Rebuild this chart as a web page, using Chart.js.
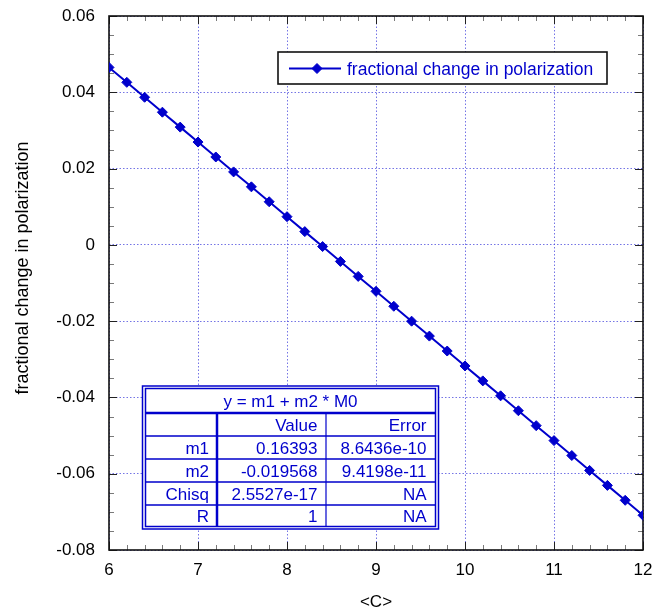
<!DOCTYPE html>
<html><head><meta charset="utf-8">
<script src="https://cdn.jsdelivr.net/npm/chart.js@4.4.1/dist/chart.umd.min.js"></script>
<style>html,body{margin:0;padding:0;background:#fff;} canvas{display:block;}</style>
</head><body>
<canvas id="c" width="657" height="614"></canvas>
<script>
// ---- data ----
const xValues = [6.0, 6.2, 6.4, 6.6, 6.8, 7.0, 7.2, 7.4, 7.6, 7.8, 8.0, 8.2, 8.4, 8.6, 8.8, 9.0,
                 9.2, 9.4, 9.6, 9.8, 10.0, 10.2, 10.4, 10.6, 10.8, 11.0, 11.2, 11.4, 11.6, 11.8, 12.0];
const yValues = [0.046522, 0.042608, 0.038695, 0.034781, 0.030868, 0.026954, 0.023040, 0.019127,
                 0.015213, 0.011300, 0.007386, 0.003472, -0.000441, -0.004355, -0.008268, -0.012182,
                 -0.016096, -0.020009, -0.023923, -0.027836, -0.031750, -0.035664, -0.039577, -0.043491,
                 -0.047404, -0.051318, -0.055232, -0.059145, -0.063059, -0.066972, -0.070886];
const seriesLabel = 'fractional change in polarization';
const xTickValues = [6, 7, 8, 9, 10, 11, 12];
const xTickLabels = ['6', '7', '8', '9', '10', '11', '12'];
const yTickValues = [-0.08, -0.06, -0.04, -0.02, 0, 0.02, 0.04, 0.06];
const yTickLabels = ['-0.08', '-0.06', '-0.04', '-0.02', '0', '0.02', '0.04', '0.06'];
const xAxisTitle = '<C>';
const yAxisTitle = 'fractional change in polarization';
const fitEquation = 'y = m1 + m2 * M0';
const fitHeader = ['', 'Value', 'Error'];
const fitNames = ['m1', 'm2', 'Chisq', 'R'];
const fitValues = ['0.16393', '-0.019568', '2.5527e-17', '1'];
const fitErrors = ['8.6436e-10', '9.4198e-11', 'NA', 'NA'];

// ---- styles ----
const FONT = '"Liberation Sans", Arial, Helvetica, sans-serif';
const BLUE = '#0000cc';

const frameTicks = {
  id: 'frameTicks',
  beforeDatasetsDraw(chart) {
    const {ctx, chartArea: a, scales: {x, y}} = chart;
    ctx.save();
    ctx.lineWidth = 1;
    ctx.strokeStyle = '#7a7a7a';
    ctx.beginPath();
    const nx = 30, ny = 28;
    for (let i = 1; i < nx; i++) {
      const px = Math.round(x.getPixelForValue(x.min + i * (x.max - x.min) / nx)) + 0.5;
      ctx.moveTo(px, a.bottom); ctx.lineTo(px, a.bottom - 5);
      ctx.moveTo(px, a.top); ctx.lineTo(px, a.top + 5);
    }
    for (let i = 1; i < ny; i++) {
      const py = Math.round(y.getPixelForValue(y.min + i * (y.max - y.min) / ny)) + 0.5;
      ctx.moveTo(a.left, py); ctx.lineTo(a.left + 5, py);
      ctx.moveTo(a.right, py); ctx.lineTo(a.right - 5, py);
    }
    ctx.stroke();
    ctx.strokeStyle = '#222';
    ctx.beginPath();
    xTickValues.forEach(v => {
      const px = Math.round(x.getPixelForValue(v)) + 0.5;
      ctx.moveTo(px, a.bottom); ctx.lineTo(px, a.bottom - 8);
      ctx.moveTo(px, a.top); ctx.lineTo(px, a.top + 8);
    });
    yTickValues.forEach(v => {
      const py = Math.round(y.getPixelForValue(v)) + 0.5;
      ctx.moveTo(a.left, py); ctx.lineTo(a.left + 8, py);
      ctx.moveTo(a.right, py); ctx.lineTo(a.right - 8, py);
    });
    ctx.stroke();
    ctx.strokeStyle = '#111';
    ctx.lineWidth = 1.6;
    ctx.strokeRect(a.left, a.top, a.right - a.left, a.bottom - a.top);
    ctx.restore();
  }
};

function diamond(ctx, cx, cy, r) {
  ctx.beginPath();
  ctx.moveTo(cx - r, cy); ctx.lineTo(cx, cy - r); ctx.lineTo(cx + r, cy); ctx.lineTo(cx, cy + r);
  ctx.closePath();
  ctx.fill(); ctx.stroke();
}

const overlays = {
  id: 'overlays',
  afterDraw(chart) {
    const {ctx, chartArea: a} = chart;
    ctx.save();
    // y axis title
    ctx.save();
    ctx.translate(28, (a.top + a.bottom) / 2 - 15);
    ctx.rotate(-Math.PI / 2);
    ctx.fillStyle = '#000';
    ctx.font = '18px ' + FONT;
    ctx.textAlign = 'center';
    ctx.textBaseline = 'alphabetic';
    ctx.fillText(yAxisTitle, 0, 0);
    ctx.restore();

    // legend
    ctx.fillStyle = '#fff';
    ctx.fillRect(278, 52, 329, 32);
    ctx.strokeStyle = '#111';
    ctx.lineWidth = 1.6;
    ctx.strokeRect(278, 52, 329, 32);
    ctx.strokeStyle = BLUE; ctx.fillStyle = BLUE; ctx.lineWidth = 2;
    ctx.beginPath(); ctx.moveTo(289, 68.5); ctx.lineTo(341, 68.5); ctx.stroke();
    ctx.lineWidth = 1;
    diamond(ctx, 317, 68.5, 5);
    ctx.font = '17.5px ' + FONT;
    ctx.textAlign = 'left'; ctx.textBaseline = 'alphabetic';
    ctx.fillText(seriesLabel, 347, 74.5);

    // fit table
    const L = 142.5, R = 438.5, T = 386, B = 529;
    const iL = 145.5, iR = 435.5, iT = 388.5, iB = 526.5;
    ctx.fillStyle = '#fff';
    ctx.fillRect(L, T, R - L, B - T);
    ctx.strokeStyle = BLUE;
    ctx.lineWidth = 1.5;
    ctx.strokeRect(L, T, R - L, B - T);
    ctx.strokeRect(iL, iT, iR - iL, iB - iT);
    const rowLines = [413, 436, 459, 482, 505];
    ctx.lineWidth = 2.5;
    ctx.beginPath(); ctx.moveTo(iL, rowLines[0]); ctx.lineTo(iR, rowLines[0]); ctx.stroke();
    ctx.lineWidth = 1.5;
    ctx.beginPath();
    for (let i = 1; i < rowLines.length; i++) { ctx.moveTo(iL, rowLines[i]); ctx.lineTo(iR, rowLines[i]); }
    ctx.stroke();
    ctx.lineWidth = 2.5;
    ctx.beginPath(); ctx.moveTo(217, rowLines[0]); ctx.lineTo(217, iB); ctx.stroke();
    ctx.lineWidth = 1.2;
    ctx.beginPath(); ctx.moveTo(326, rowLines[0]); ctx.lineTo(326, iB); ctx.stroke();

    ctx.fillStyle = BLUE;
    ctx.font = '17px ' + FONT;
    ctx.textBaseline = 'alphabetic';
    ctx.textAlign = 'center';
    ctx.fillText(fitEquation, (iL + iR) / 2, 406.5);
    ctx.textAlign = 'right';
    const colRight = [209, 317.5, 426.5];
    const baselines = [430.5, 453.5, 476.5, 499.5, 521.5];
    fitHeader.forEach((t, j) => ctx.fillText(t, colRight[j], baselines[0]));
    fitNames.forEach((n, i) => {
      ctx.fillText(n, colRight[0], baselines[i + 1]);
      ctx.fillText(fitValues[i], colRight[1], baselines[i + 1]);
      ctx.fillText(fitErrors[i], colRight[2], baselines[i + 1]);
    });
    ctx.restore();
  }
};

new Chart(document.getElementById('c'), {
  type: 'scatter',
  data: {
    datasets: [{
      label: seriesLabel,
      data: xValues.map((xv, i) => ({x: xv, y: yValues[i]})),
      showLine: true,
      borderColor: BLUE,
      backgroundColor: BLUE,
      borderWidth: 2,
      pointStyle: 'rectRot',
      pointRadius: 5,
      pointBorderWidth: 1,
      pointBorderColor: BLUE,
      pointBackgroundColor: BLUE,
      tension: 0
    }]
  },
  options: {
    responsive: false,
    animation: false,
    events: [],
    layout: {padding: {left: 0, top: 16, right: 14, bottom: 0}},
    plugins: {legend: {display: false}, tooltip: {enabled: false}},
    scales: {
      x: {
        type: 'linear', min: 6, max: 12,
        afterBuildTicks: s => { s.ticks = xTickValues.map(v => ({value: v})); },
        afterFit: s => { s.height = 64; s.paddingLeft = 0; s.paddingRight = 0; },
        grid: {color: 'rgba(70,70,220,0.75)', lineWidth: 1, drawTicks: false, borderDash: [1.5, 2]},
        border: {display: false, dash: [1.5, 2]},
        ticks: {
          padding: 10.5, color: '#000', font: {family: FONT, size: 17},
          maxRotation: 0, autoSkip: false,
          callback: (v, i) => xTickLabels[i]
        },
        title: {display: true, text: xAxisTitle, color: '#000', font: {family: FONT, size: 17}, padding: {top: 0, bottom: 1}}
      },
      y: {
        type: 'linear', min: -0.08, max: 0.06,
        afterBuildTicks: s => { s.ticks = yTickValues.map(v => ({value: v})); },
        afterFit: s => { s.width = 109; s.paddingTop = 0; s.paddingBottom = 0; },
        grid: {color: 'rgba(70,70,220,0.75)', lineWidth: 1, drawTicks: false, borderDash: [1.5, 2]},
        border: {display: false, dash: [1.5, 2]},
        ticks: {
          padding: 14, color: '#000', font: {family: FONT, size: 17},
          autoSkip: false,
          callback: (v, i) => yTickLabels[i]
        },
        title: {display: false}
      }
    }
  },
  plugins: [frameTicks, overlays]
});
</script>
</body></html>
